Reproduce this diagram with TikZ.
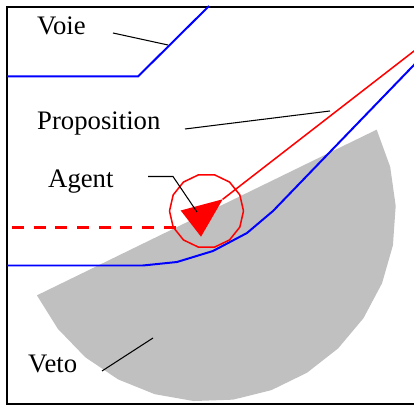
\documentclass[tikz,border=0pt]{standalone}
\usepackage{fontspec}
\setmainfont{Liberation Serif}
\usepackage{xcolor}
\usepackage{tikz}
\usetikzlibrary{positioning,calc}
\definecolor{vetogray}{RGB}{192,192,192}
\tikzset{
  lbl/.style={anchor=base west,inner sep=0pt,font=\fontsize{22.8}{27}\selectfont},
  lead/.style={draw=black,line width=0.9pt},
  frm/.style={draw=black,line width=1.5pt},
  road/.style={draw=blue,line width=1.7pt,line join=round},
  propline/.style={draw=red,line width=1.3pt},
  ring/.style={draw=red,line width=1.3pt,line join=round},
  past/.style={draw=red,line width=1.8pt,dash pattern=on 10.24pt off 8.28pt},
}
\begin{document}
\begin{tikzpicture}[x=0.03cm,y=-0.03cm]
  \useasboundingbox (0,0) rectangle (414,405);
  \fill[vetogray] plot[domain=-26:154,samples=16] ({206.8+189*cos(\x)},{212.5+189*sin(\x)}) -- cycle;
  \draw[frm] (420,7) -- (7,7) -- (7,404) -- (420,404);

  \draw[road] (7,76.5) -- (138,76.5) -- (209,6);
  \draw[road] (7,265.5) -- (143,265.5) -- (177,262) -- (213,251) -- (247,233) -- (273,211) -- (420,58.7);

  \coordinate (t1) at (180.7,210.5);
  \coordinate (t2) at (222.7,199.3);
  \coordinate (t3) at (201,236.7);
  \coordinate (propend) at (420,46.4);
  \coordinate (pastend) at (176,227.5);
  \coordinate (pastbeg) at (12,227.5);
  \fill[red] (t1) -- (t2) -- (t3) -- cycle;
  \draw[propline] (t2) -- (propend);
  \draw[ring] plot[domain=-77.14:282.86,samples=15] ({206.5+37*cos(\x)},{211*1+37*sin(\x)}) -- cycle;
  \draw[past] (pastbeg) -- (pastend);

  \node[lbl] (voie) at (37,35) {Voie};
  \node[lbl] (prop) at (37,130) {Proposition};
  \node[lbl] (agent) at (48,188) {Agent};
  \node[lbl] (veto) at (28,373) {Veto};

  \coordinate (voiefoot) at (113,33);
  \coordinate (voietip) at (168,45);
  \coordinate (propfoot) at (185,129);
  \coordinate (proptip) at (330,111);
  \coordinate (agentfoot) at (148,176.5);
  \coordinate (agentbend) at (173,176.5);
  \coordinate (agenttip) at (197,212);
  \coordinate (vetofoot) at (102,371);
  \coordinate (vetotip) at (153,338);
  \draw[lead] (voiefoot) -- (voietip);
  \draw[lead] (propfoot) -- (proptip);
  \draw[lead] (agentfoot) -- (agentbend) -- (agenttip);
  \draw[lead] (vetofoot) -- (vetotip);
\end{tikzpicture}
\end{document}
